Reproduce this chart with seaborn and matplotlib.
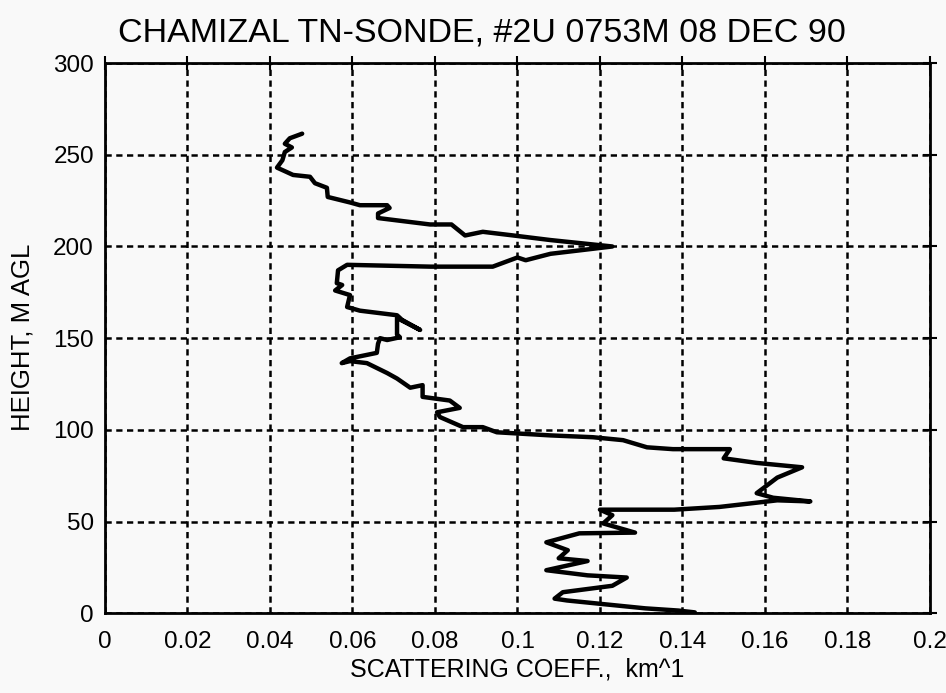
import matplotlib
matplotlib.use("Agg")
import matplotlib.pyplot as plt
import seaborn as sns
import pandas as pd
from matplotlib.ticker import FuncFormatter

# Profile, bottom to top (scattering coeff km^-1, height m AGL)
scatter = [0.143, 0.139, 0.131, 0.112, 0.109, 0.111, 0.123, 0.1265, 0.117, 0.107,
           0.117, 0.110, 0.1122, 0.107, 0.115, 0.1285, 0.1208, 0.123, 0.120, 0.138,
           0.149, 0.163, 0.171, 0.162, 0.158, 0.163, 0.169, 0.158, 0.150, 0.1515,
           0.1377, 0.1314, 0.1256, 0.1183, 0.108, 0.095, 0.0916, 0.0868, 0.0812, 0.0805,
           0.086, 0.0836, 0.077, 0.077, 0.074, 0.0708, 0.0684, 0.0635, 0.0594, 0.0574,
           0.0594, 0.0659, 0.0662, 0.0667, 0.0684, 0.0715, 0.0708, 0.0708, 0.0764, 0.0720,
           0.0708, 0.0618, 0.0587, 0.0594, 0.0558, 0.0575, 0.0562, 0.0565, 0.0587, 0.079,
           0.094, 0.100, 0.102, 0.108, 0.123, 0.108, 0.099, 0.0916, 0.0873, 0.084,
           0.0788, 0.0662, 0.0662, 0.069, 0.0684, 0.0618, 0.0594, 0.054, 0.0538, 0.0509,
           0.0497, 0.0456, 0.0417, 0.043, 0.0436, 0.0453, 0.0436, 0.0448, 0.0478]
height = [0.5, 1.5, 2.7, 7, 8, 11.5, 15, 19.5, 20.7, 23.5,
          28.5, 30, 34.4, 38.7, 43.6, 44, 49, 53.5, 56.5, 56.5,
          58, 61.6, 61, 63, 65.5, 74, 79.6, 82, 84.5, 89.5,
          89.5, 90.5, 94.4, 96, 97, 98.7, 101.5, 101.5, 107, 109.6,
          112, 116, 118, 124.4, 123, 128, 131, 136.4, 137.5, 136.4,
          139, 142, 147, 150, 149, 150.5, 152, 161, 154.5, 160,
          162.5, 165, 167, 173.5, 176, 179, 180, 187, 190, 189,
          189, 194, 192.5, 196, 200, 203.5, 206, 208, 206, 212,
          212, 215.5, 218, 221, 222.5, 222.5, 224, 227, 232, 234.5,
          238, 239, 243, 247, 251.5, 254, 256, 259, 261.5]

x_ticks = [0, 0.02, 0.04, 0.06, 0.08, 0.1, 0.12, 0.14, 0.16, 0.18, 0.2]
y_ticks = [0, 50, 100, 150, 200, 250, 300]

df = pd.DataFrame({"coeff": scatter, "height": height})

sns.set_style("white")
plt.rcParams['font.family'] = ['Liberation Sans', 'DejaVu Sans']
plt.rcParams['text.color'] = 'black'

fig = plt.figure(figsize=(9.46, 6.93), dpi=100, facecolor="#f9f9f9")
ax = fig.add_axes([0.111, 0.115, 0.872, 0.794])
ax.set_facecolor("#f9f9f9")

sns.lineplot(data=df, x="coeff", y="height", sort=False, estimator=None,
             color="black", linewidth=3.2, ax=ax)

ax.set_xlim(0, 0.2)
ax.set_ylim(0, 300)
ax.set_xticks(x_ticks)
ax.set_yticks(y_ticks)
ax.xaxis.set_major_formatter(FuncFormatter(lambda v, p: "%g" % round(v, 3)))
ax.grid(True, color="black", linestyle=(0, (2.5, 1.8)), linewidth=1.8)
for s in ax.spines.values():
    s.set_color("black")
    s.set_linewidth(2)
ax.tick_params(axis="both", which="major", direction="inout", length=10, width=1.5,
               labelsize=17.5, colors="black", top=True, right=True)
ax.tick_params(axis="x", pad=8)
ax.tick_params(axis="y", pad=3)

ax.set_xlabel("SCATTERING COEFF.,  km^1", fontsize=18, color="black")
ax.set_ylabel("HEIGHT, M AGL", fontsize=18.5, color="black")
ax.xaxis.set_label_coords(0.5, -0.08)
ax.yaxis.set_label_coords(-0.085, 0.502)

fig.text(0.5095, 1 - 42 / 693, "CHAMIZAL TN-SONDE, #2U 0753M 08 DEC 90",
         fontsize=24.5, ha="center", va="baseline", color="black")

fig.savefig("out.png", dpi=100, facecolor=fig.get_facecolor())
